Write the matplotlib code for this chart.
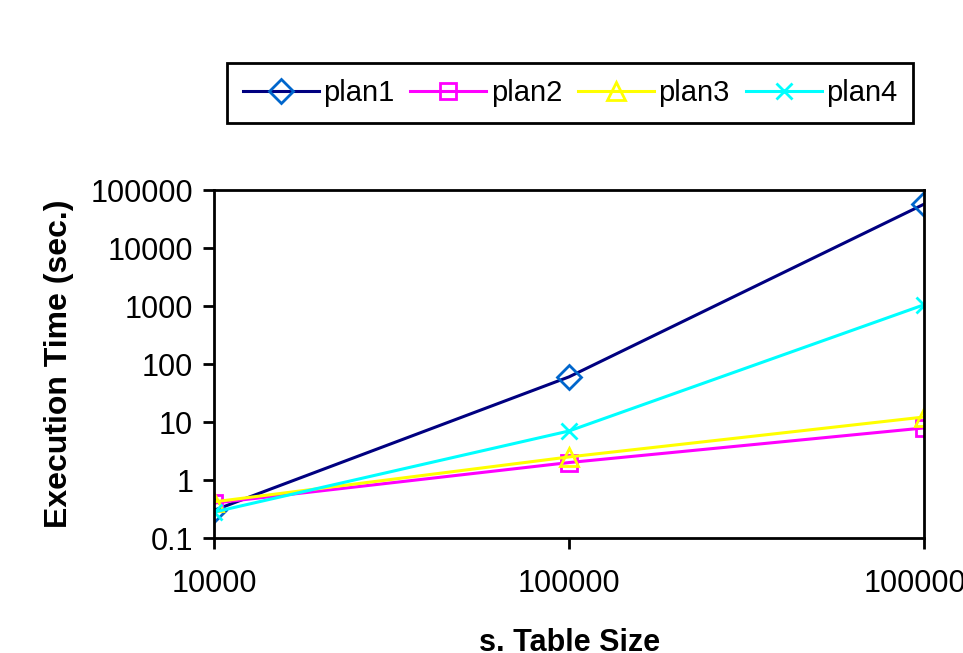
import matplotlib
matplotlib.use("Agg")
import matplotlib.pyplot as plt

plt.rcParams['font.family'] = ['Liberation Sans', 'DejaVu Sans']

# table sizes and execution times (sec.)
sizes = [10000, 100000, 1000000]
size_labels = ['10000', '100000', '1000000']
plan1 = [0.3, 60, 57000]
plan2 = [0.4, 2.0, 7.9]
plan3 = [0.42, 2.5, 12.2]
plan4 = [0.28, 7.0, 1050]
y_ticks = [0.1, 1, 10, 100, 1000, 10000, 100000]
y_labels = ['0.1', '1', '10', '100', '1000', '10000', '100000']

fig = plt.figure(figsize=(9.63, 6.53), dpi=100)
ax = fig.add_axes([0.2222, 0.1761, 0.7373, 0.5329])

ax.plot(sizes, plan1, color='#000080', lw=2.2, marker='D', ms=12,
        mfc='none', mec='#0066CC', mew=2, label='plan1')
ax.plot(sizes, plan2, color='#FF00FF', lw=2.2, marker='s', ms=12,
        mfc='none', mec='#FF00FF', mew=2, label='plan2')
ax.plot(sizes, plan3, color='#FFFF00', lw=2.2, marker='^', ms=13,
        mfc='none', mec='#FFFF00', mew=2, label='plan3')
ax.plot(sizes, plan4, color='#00FFFF', lw=2.2, marker='x', ms=11,
        mec='#00FFFF', mew=2, label='plan4')

ax.set_xscale('log')
ax.set_yscale('log')
ax.set_xlim(10000, 1000000)
ax.set_ylim(0.1, 100000)
ax.set_xticks(sizes)
ax.set_xticklabels(size_labels)
ax.set_yticks(y_ticks)
ax.set_yticklabels(y_labels)
ax.minorticks_off()
ax.tick_params(axis='both', direction='out', length=8, width=2, labelsize=22)
ax.tick_params(axis='x', pad=14)
ax.tick_params(axis='y', pad=7)
for sp in ax.spines.values():
    sp.set_linewidth(2)
for t in ax.get_xticklabels() + ax.get_yticklabels():
    t.set_clip_on(False)

ax.set_ylabel('Execution Time (sec.)', fontsize=23, fontweight='bold', labelpad=12)
fig.text(0.591, 0.015, 's. Table Size', fontsize=22, fontweight='bold',
         ha='center', va='center')

leg = fig.legend(loc='center', bbox_to_anchor=(0.592, 0.858), ncol=4,
                 fontsize=21, frameon=True, fancybox=False, edgecolor='black',
                 framealpha=1, handlelength=2.6, handletextpad=0.15,
                 columnspacing=0.55, borderpad=0.55)
leg.get_frame().set_linewidth(2)

fig.savefig('out.png', dpi=100)
